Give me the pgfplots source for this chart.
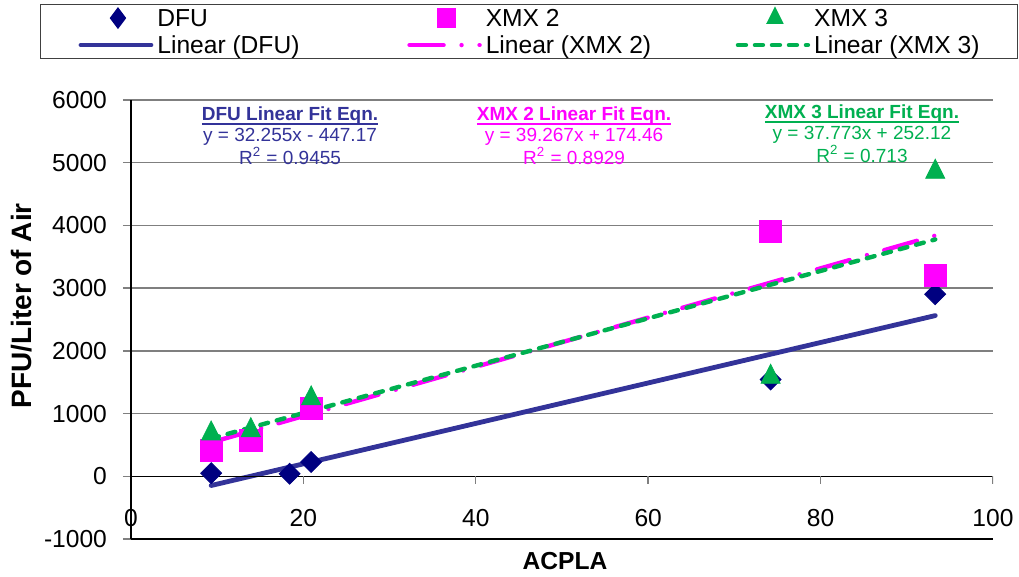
\documentclass[border=0pt]{standalone}
\usepackage{pgfplots}
\pgfplotsset{compat=1.18}
\usepackage{fontspec}
\setmainfont{Liberation Sans}
\newcommand{\myul}[1]{\setbox0\hbox{#1}\rlap{\rule[-1.9pt]{\wd0}{0.9pt}}\box0}
\definecolor{dfu}{HTML}{000080}
\definecolor{dfuline}{HTML}{333399}
\definecolor{xmxtwo}{HTML}{FF00FF}
\definecolor{xmxthree}{HTML}{00B050}
\definecolor{gridc}{HTML}{7F7F7F}
\newcommand{\lfont}{\fontsize{12.3}{14}\selectfont}
\newcommand{\afont}{\fontsize{9.5}{10.25}\selectfont}
\pgfplotsset{linelegend/.style={legend image code/.code={\draw[##1] (0pt,0pt) -- (35pt,0pt);}}}
\begin{document}
\begin{tikzpicture}
\useasboundingbox (-65.5pt,-19pt) rectangle (444pt,269.5pt);
\begin{axis}[
  at={(0pt,0pt)}, anchor=south west,
  scale only axis, width=431pt, height=219.5pt,
  xmin=0, xmax=100, ymin=-1000, ymax=6000,
  axis lines*=left,
  axis line style={black, line width=0.7pt},
  xtick={0,20,40,60,80,100},
  xticklabels={0,20,40,60,80,100},
  ytick={-1000,0,1000,2000,3000,4000,5000,6000},
  yticklabels={-1000,0,1000,2000,3000,4000,5000,6000},
  tick label style={font=\lfont},
  xtick style={draw=none},
  ytick style={gridc, line width=0.7pt},
  tick align=outside,
  major tick length=4pt,
  xticklabel style={anchor=base, yshift=10pt},
  yticklabel style={anchor=east, xshift=-4.5pt},
  ymajorgrids,
  grid style={gridc, line width=0.7pt},
  xlabel={\textbf{ACPLA}},
  ylabel={\textbf{PFU/Liter of Air}},
  xlabel style={font=\lfont, at={(rel axis cs:0.5035,-0.05)}, anchor=center},
  ylabel style={font=\fontsize{14}{16}\selectfont, at={(rel axis cs:-0.1265,0.531)}, anchor=center},
  legend columns=3,
  legend cell align=left,
  legend style={at={(rel axis cs:-0.1056,1.2187)}, anchor=north west,
    draw=black!75, line width=0.6pt, inner xsep=19pt, inner ysep=0pt,
    font=\lfont, row sep=0pt,
    nodes={inner xsep=0pt, inner ysep=0pt, text height=11pt, text depth=2.5pt},
    /tikz/every odd column/.style={column sep=2pt},
    /tikz/every even column/.style={column sep=0pt}},
]
% scatter series
\addplot[only marks, mark=square*, mark options={rotate=45, fill=dfu, draw=dfu}, mark size=3.7pt,
  legend image code/.code={\draw[fill=dfu, draw=dfu] plot[mark=diamond*, mark options={}, mark size=5pt] coordinates {(18.5pt,0pt)};}]
  coordinates {(9.3,50) (18.4,40) (20.9,228) (74.2,1542) (93.3,2903)};
\addlegendentry{\makebox[125pt][l]{DFU}}
\addplot[only marks, mark=square*, mark options={fill=xmxtwo, draw=xmxtwo, rounded corners=1pt}, mark size=5.6pt,
  legend image code/.code={\draw[fill=xmxtwo, draw=xmxtwo] plot[mark=square*, mark size=4.5pt] coordinates {(18.5pt,0pt)};}]
  coordinates {(9.3,415) (13.9,574) (20.9,1080) (74.2,3907) (93.3,3206)};
\addlegendentry{\makebox[125pt][l]{XMX 2}}
\addplot[only marks, mark=triangle*, mark options={fill=xmxthree, draw=xmxthree, yscale=1.15}, mark size=5.5pt,
  legend image code/.code={\draw[fill=xmxthree, draw=xmxthree] plot[mark=triangle*, mark size=4.5pt] coordinates {(18.5pt,0pt)};}]
  coordinates {(9.3,680) (13.9,733) (20.9,1240) (74.2,1584) (93.3,4853)};
\addlegendentry{XMX 3}
% trend lines
\addplot[dfuline, line width=2.4pt, line cap=round, linelegend]
  coordinates {(9.3,-147.2) (93.3,2562.2)};
\addlegendentry{\makebox[125pt][l]{Linear (DFU)}}
\addplot[xmxtwo, line width=2.2pt, line cap=round, dash pattern=on 17pt off 9pt on 0pt off 9pt, linelegend]
  coordinates {(9.3,539.6) (93.3,3838.0)};
\addlegendentry{\makebox[125pt][l]{Linear (XMX 2)}}
\addplot[xmxthree, line width=2.2pt, line cap=round, dash pattern=on 4pt off 4.5pt, linelegend]
  coordinates {(9.3,603.4) (93.3,3776.3)};
\addlegendentry{Linear (XMX 3)}
% x axis line through zero
\draw[black, line width=0.7pt] (axis cs:0,0) -- (axis cs:100,0);
\pgfplotsinvokeforeach{20,40,60,80,100}{\draw[gridc, line width=0.7pt] (axis cs:#1,0) -- ++(0pt,-4pt);}
% fit equations
\node[anchor=north, align=center, inner sep=0pt, font=\afont, text=dfuline] at (axis cs:18.45,5893)
  {\myul{\textbf{DFU Linear Fit Eqn.}}\\ y = 32.255x - 447.17\\ R\textsuperscript{2} = 0.9455};
\node[anchor=north, align=center, inner sep=0pt, font=\afont, text=xmxtwo] at (axis cs:51.4,5893)
  {\myul{\textbf{XMX 2 Linear Fit Eqn.}}\\ y = 39.267x + 174.46\\ R\textsuperscript{2} = 0.8929};
\node[anchor=north, align=center, inner sep=0pt, font=\afont, text=xmxthree] at (axis cs:84.8,5925)
  {\myul{\textbf{XMX 3 Linear Fit Eqn.}}\\ y = 37.773x + 252.12\\ R\textsuperscript{2} = 0.713};
\end{axis}
\end{tikzpicture}
\end{document}
